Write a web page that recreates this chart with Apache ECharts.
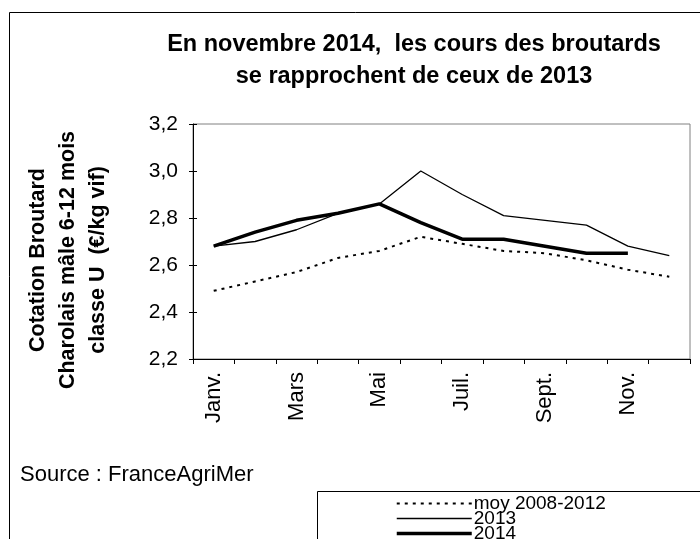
<!DOCTYPE html>
<html><head><meta charset="utf-8">
<script src="https://cdn.jsdelivr.net/npm/echarts@6/dist/echarts.min.js"></script>
<style>html,body{margin:0;padding:0;background:#fff}#c{width:700px;height:539px}</style>
</head><body><div id="c"></div>
<script>
const months = ['Janv.','Févr.','Mars','Avr.','Mai','Juin','Juil.','Août','Sept.','Oct.','Nov.','Déc.'];
const moy = [2.49,2.53,2.57,2.63,2.66,2.72,2.69,2.66,2.65,2.62,2.58,2.55];
const y2013 = [2.68,2.70,2.75,2.82,2.86,3.00,2.90,2.81,2.79,2.77,2.68,2.64];
const y2014 = [2.68,2.74,2.79,2.82,2.86,2.78,2.71,2.71,2.68,2.65,2.65];
const seriesNames = ['moy 2008-2012','2013','2014'];
const titleText = 'En novembre 2014,  les cours des broutards\nse rapprochent de ceux de 2013';
const yName = 'Cotation Broutard\nCharolais mâle 6-12 mois\nclasse U  (€/kg vif)';
const sourceText = 'Source : FranceAgriMer';
const FONT = '"Liberation Sans", Arial, sans-serif';
const fmt = v => v.toFixed(1).replace('.', ',');
const styles = [
  {width:2, type:[3,5]},
  {width:1.3, type:'solid'},
  {width:3.5, type:'solid'}
];

const chart = echarts.init(document.getElementById('c'), null, {renderer:'canvas'});
chart.setOption({
  animation:false,
  backgroundColor:'#fff',
  textStyle:{fontFamily:FONT,color:'#000'},
  grid:{left:193,right:10,top:124,bottom:180,show:true,borderColor:'#808080',borderWidth:1,containLabel:false},
  xAxis:{type:'category',data:months,boundaryGap:true,
    axisLine:{lineStyle:{color:'#000',width:1}},
    axisTick:{show:true,length:5,interval:0,lineStyle:{color:'#000'}},
    axisLabel:{interval:1,rotate:90,fontSize:22,margin:13,color:'#000',fontFamily:FONT},
    splitLine:{show:false}},
  yAxis:[{type:'value',min:2.2,max:3.2,interval:0.2,
    axisLine:{show:true,lineStyle:{color:'#000',width:1}},
    axisTick:{show:true,length:4,lineStyle:{color:'#000'}},
    axisLabel:{formatter:fmt,fontSize:21,margin:15,color:'#000',fontFamily:FONT},
    splitLine:{show:false}},
   {type:'value',min:2.2,max:3.2,interval:0.2,position:'left',
    axisLine:{show:false},
    axisTick:{show:true,inside:true,length:4,lineStyle:{color:'#000'}},
    axisLabel:{show:false},splitLine:{show:false}}],
  legend:{orient:'vertical',left:395,top:494,height:120,itemWidth:75,itemHeight:14,itemGap:-4,padding:0,
    data:seriesNames.map((n,i)=>({name:n,itemStyle:{opacity:0},lineStyle:{color:'#000',width:styles[i].width,type:styles[i].type}})),
    itemStyle:{opacity:0},
    textStyle:{fontSize:19,lineHeight:14,color:'#000',fontFamily:FONT,padding:[0,0,0,-3]}},
  series:[
    {name:seriesNames[0],type:'line',data:moy,symbol:'none',z:2,
     lineStyle:{color:'#000',width:styles[0].width,type:styles[0].type},itemStyle:{color:'#000'}},
    {name:seriesNames[1],type:'line',data:y2013,symbol:'none',z:3,
     lineStyle:{color:'#000',width:styles[1].width},itemStyle:{color:'#000'}},
    {name:seriesNames[2],type:'line',data:y2014,symbol:'none',z:4,
     lineStyle:{color:'#000',width:styles[2].width},itemStyle:{color:'#000'}}
  ],
  graphic:[
    {type:'rect',shape:{x:9.5,y:12.5,width:800,height:700},style:{fill:'none',stroke:'#000',lineWidth:1},silent:true,z:-1},
    {type:'rect',shape:{x:317.5,y:491.5,width:500,height:100},style:{fill:'none',stroke:'#000',lineWidth:1},silent:true},
    {type:'text',x:414,y:29,style:{text:titleText,font:'bold 23.5px '+FONT,textAlign:'center',textVerticalAlign:'top',lineHeight:32,fill:'#000'}},
    {type:'text',x:68,y:260,rotation:Math.PI/2,style:{text:yName,font:'bold 21.5px '+FONT,textAlign:'center',textVerticalAlign:'middle',lineHeight:30,fill:'#000'}},
    {type:'text',x:20,y:475,style:{text:sourceText,font:'22px '+FONT,textAlign:'left',textVerticalAlign:'middle',fill:'#000'}}
  ]
});
</script></body></html>
